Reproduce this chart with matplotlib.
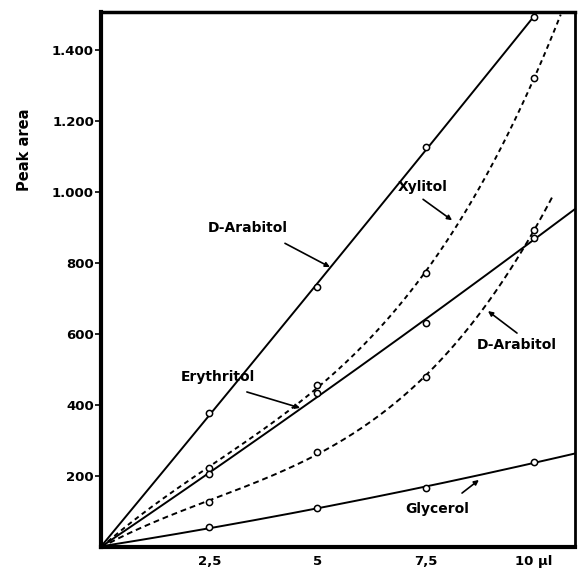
import numpy as np
import matplotlib
matplotlib.use("Agg")
import matplotlib.pyplot as plt

# Data (µl vs peak area)
x_pts = [0, 2.5, 5, 7.5, 10]
arabitol_solid = [0, 377, 732, 1127, 1493]
xylitol = [0, 222, 456, 772, 1321]
erythritol = [0, 206, 434, 631, 870]
arabitol_dashed = [0, 127, 268, 479, 893]
glycerol = [0, 56, 110, 166, 239]

# x extent of each drawn curve
end_arabitol_solid = 10.1
end_xylitol = 10.62
end_erythritol = 10.95
end_arabitol_dashed = 10.42
end_glycerol = 10.95

x_ticks = [2.5, 5, 7.5, 10]
x_ticklabels = ["2,5", "5", "7,5", "10 µl"]
y_ticks = [200, 400, 600, 800, 1000, 1200, 1400]
y_ticklabels = ["200", "400", "600", "800", "1.000", "1.200", "1.400"]

fig = plt.figure(figsize=(5.79, 5.69), dpi=100)
ax = fig.add_axes([101/579, 22/569, 474/579, 535/569])

def curve(y, xend, deg, style):
    c = np.polyfit(x_pts, y, deg)
    xs = np.linspace(0, xend, 200)
    ax.plot(xs, np.polyval(c, xs), color="black", lw=1.4, linestyle=style,
            solid_capstyle="round")
    ax.plot(x_pts[1:], y[1:], "o", ms=4.5, mfc="white", mec="black", mew=1.1, zorder=5)

curve(arabitol_solid, end_arabitol_solid, 2, "-")
curve(xylitol, end_xylitol, 3, (0, (2.5, 2)))
curve(erythritol, end_erythritol, 2, "-")
curve(arabitol_dashed, end_arabitol_dashed, 3, (0, (3, 2)))
curve(glycerol, end_glycerol, 2, "-")

ax.set_xlim(0, 10.95)
ax.set_ylim(0, 1508)
ax.set_xticks(x_ticks)
ax.set_xticklabels(x_ticklabels)
ax.set_yticks(y_ticks)
ax.set_yticklabels(y_ticklabels)
for lab in ax.get_xticklabels() + ax.get_yticklabels():
    lab.set_fontweight("bold")
    lab.set_fontsize(9.5)
ax.tick_params(axis="x", length=0, pad=6)
ax.tick_params(axis="y", length=4, width=1.2, direction="out", pad=1)

ax.spines["left"].set_linewidth(3)
ax.spines["bottom"].set_linewidth(3)
ax.spines["top"].set_linewidth(2.5)
ax.spines["right"].set_linewidth(2)

ax.text(-0.162, 0.742, "Peak area", transform=ax.transAxes, rotation=90,
        ha="center", va="center", fontsize=10.5, fontweight="bold")

ann_kw = dict(fontsize=10, fontweight="bold", ha="center", va="center")
ap = dict(arrowstyle="-|>", color="black", lw=1.2, mutation_scale=7, shrinkA=0, shrinkB=0)
labels = [
    ("D-Arabitol", (3.39, 899), (4.25, 856), (5.29, 789)),
    ("Xylitol", (7.44, 1014), (7.44, 980), (8.11, 921)),
    ("Erythritol", (2.70, 479), (3.37, 437), (4.60, 392)),
    ("D-Arabitol", (9.61, 569), (9.61, 603), (8.94, 665)),
    ("Glycerol", (7.76, 107), (8.34, 152), (8.73, 189)),
]
for txt, pos, a0, a1 in labels:
    ax.text(pos[0], pos[1], txt, **ann_kw)
    ax.annotate("", xy=a1, xytext=a0, arrowprops=ap)

fig.savefig("out.png", dpi=100)
